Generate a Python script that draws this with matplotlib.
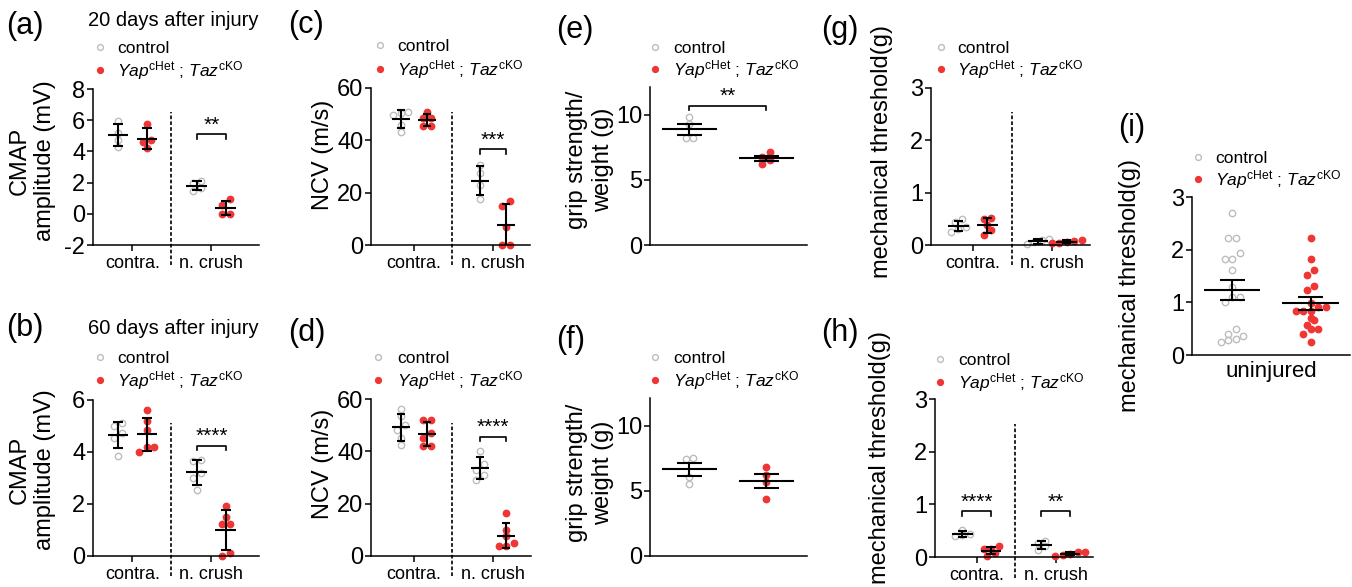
import numpy as np
import matplotlib
matplotlib.use('Agg')
import matplotlib.pyplot as plt
import matplotlib.transforms as mtransforms
from matplotlib.lines import Line2D

plt.rcParams['font.family'] = ['Liberation Sans', 'DejaVu Sans']
plt.rcParams['mathtext.fontset'] = 'custom'
plt.rcParams['mathtext.rm'] = 'Liberation Sans'
plt.rcParams['mathtext.it'] = 'Liberation Sans:italic'
plt.rcParams['axes.unicode_minus'] = False

W, H = 1352, 587
GREY = '#bdbdbd'
RED = '#f03535'

sites = ['contra.', 'n. crush']
leg_labels = ['control', r'$\mathit{Yap}^{\mathrm{cHet}}$ ; $\mathit{Taz}^{\mathrm{cKO}}$']

# values per animal, [contra., n. crush]
# (a) CMAP amplitude (mV), 20 days after injury
a_ctrl = [[5.95, 5.15, 4.7, 4.3], [2.1, 1.95, 1.65, 1.45]]
a_ko = [[5.75, 4.75, 4.6, 4.2], [0.93, 0.57, 0.0, 0.0]]
# (b) CMAP amplitude (mV), 60 days after injury
b_ctrl = [[5.1, 5.0, 4.75, 4.55, 3.85], [3.7, 3.65, 3.2, 3.0, 2.55]]
b_ko = [[5.6, 5.2, 4.85, 4.2, 4.2, 4.0], [1.92, 1.49, 1.22, 1.22, 0.1, 0.0]]
# (c) NCV (m/s), 20 days
c_ctrl = [[51, 50.5, 49.5, 46, 43], [30.5, 27.5, 23, 17.5]]
c_ko = [[51, 48.5, 48.5, 45.5, 45.5], [17, 15, 7, 0, 0]]
# (d) NCV (m/s), 60 days
d_ctrl = [[56, 53.5, 50, 48, 45, 42.5], [40, 35, 33, 31, 29]]
d_ko = [[52, 52, 47, 45, 42, 42], [16.5, 10, 7.5, 5, 4, 4]]
# (e) grip strength / weight, 20 days
e_ctrl = [9.85, 9.3, 8.2, 8.2]
e_ko = [7.18, 6.74, 6.5, 6.23]
# (f) grip strength / weight, 60 days
f_ctrl = [7.55, 7.45, 6.1, 5.55]
f_ko = [6.82, 6.2, 5.72, 4.38]
# (g) mechanical threshold (g), 20 days
g_ctrl = [[0.5, 0.43, 0.35, 0.3, 0.25], [0.12, 0.1, 0.05, 0.02]]
g_ko = [[0.52, 0.5, 0.38, 0.28, 0.2], [0.1, 0.08, 0.05, 0.04, 0.03]]
# (h) mechanical threshold (g), 60 days
h_ctrl = [[0.51, 0.44, 0.42, 0.39], [0.3, 0.27, 0.2, 0.13]]
h_ko = [[0.2, 0.16, 0.15, 0.08, 0.02], [0.1, 0.09, 0.06, 0.04, 0.02]]
# (i) mechanical threshold (g), uninjured
i_ctrl = [2.70, 2.23, 2.23, 1.93, 1.82, 1.82, 1.61, 1.30, 1.11, 1.11, 1.00,
          0.49, 0.40, 0.36, 0.30, 0.28, 0.25]
i_ko = [2.23, 1.82, 1.61, 1.51, 1.31, 1.23, 0.99, 0.91, 0.91, 0.84, 0.84, 0.84,
        0.70, 0.66, 0.57, 0.49, 0.49, 0.40, 0.24]

fig = plt.figure(figsize=(W / 100, H / 100), dpi=100)


def make_ax(l, t, r, b, xlim, ylim, yticks, ylabel, lab_xy):
    ax = fig.add_axes([l / W, 1 - b / H, (r - l) / W, (b - t) / H])
    ax.set_xlim(xlim)
    ax.set_ylim(ylim)
    ax.set_yticks(yticks)
    for s in ['top', 'right']:
        ax.spines[s].set_visible(False)
    for s in ['left', 'bottom']:
        ax.spines[s].set_linewidth(1.1)
    ax.tick_params(axis='y', labelsize=17, length=4, width=1.1, pad=1.5)
    ax.tick_params(axis='x', labelsize=13, length=4, width=1.1, pad=3)
    ax.set_ylabel(ylabel, fontsize=17, linespacing=1.2, rotation=90,
                  ha='center', va='center', rotation_mode='default')
    ax.yaxis.set_label_coords((lab_xy[0] - l) / (r - l), (b - lab_xy[1]) / (b - t))
    sx = (r - l) / (xlim[1] - xlim[0])
    sy = (b - t) / (ylim[1] - ylim[0])
    return ax, sx, sy


def swarm(vals, sx, sy, d=7.5, tol=6.0):
    # spread points of (nearly) equal value side by side, like a dot plot
    v = np.asarray(vals, float)
    order = np.argsort(v)
    offs = np.zeros(len(v))
    rows, row = [], [order[0]]
    for k in order[1:]:
        if (v[k] - v[row[0]]) * sy < tol:
            row.append(k)
        else:
            rows.append(row)
            row = [k]
    rows.append(row)
    for r in rows:
        n = len(r)
        for i, k in enumerate(r):
            offs[k] = (i - (n - 1) / 2) * d / sx
    return offs


def group(ax, x, vals, filled, sx, sy, err):
    v = np.asarray(vals, float)
    xs = x + swarm(v, sx, sy)
    c = RED if filled else GREY
    ax.plot(xs, v, 'o', ms=4.6, mfc=c if filled else 'none', mec=c,
            mew=1.0, ls='none', zorder=2, clip_on=False)
    m = v.mean()
    s = v.std(ddof=1)
    if err == 'sem':
        s = s / np.sqrt(len(v))
    kw = dict(color='k', lw=1.5, zorder=3, solid_capstyle='butt')
    ax.plot([x - 0.36, x + 0.36], [m, m], **kw)
    ax.plot([x, x], [m - s, m + s], **kw)
    ax.plot([x - 0.16, x + 0.16], [m + s, m + s], **kw)
    ax.plot([x - 0.16, x + 0.16], [m - s, m - s], **kw)


def panel4(ax, sx, sy, pos, ctrl, ko, err='sd'):
    for j in range(2):
        group(ax, pos[2 * j], ctrl[j], False, sx, sy, err)
        group(ax, pos[2 * j + 1], ko[j], True, sx, sy, err)
    ax.set_xticks([(pos[0] + pos[1]) / 2, (pos[2] + pos[3]) / 2], sites)


def dashed(ax, x, ytop):
    lo, hi = ax.get_ylim()
    trans = mtransforms.blended_transform_factory(ax.transData, ax.transAxes)
    ax.plot([x, x], [-0.13, (ytop - lo) / (hi - lo)], transform=trans, color='k',
            lw=1.2, ls=(0, (2.2, 1.3)), clip_on=False)


def bracket(ax, x1, x2, y, stars, sy):
    drop = 4.5 / sy
    ax.plot([x1, x1, x2, x2], [y - drop, y, y, y - drop], color='k', lw=1.2, clip_on=False)
    ax.text((x1 + x2) / 2, y + 9 / sy, stars, ha='center', va='center', fontsize=15)


def legend(xm, y1, y2, xt):
    for y, c, filled, lab in [(y1, GREY, False, leg_labels[0]), (y2, RED, True, leg_labels[1])]:
        fig.add_artist(Line2D([xm / W], [1 - y / H], marker='o', ms=4.2,
                              mfc=c if filled else 'none', mec=c, mew=1.0, ls='none',
                              transform=fig.transFigure))
        fig.text(xt / W, 1 - (y + 6) / H, lab, fontsize=12.5, ha='left', va='baseline')


def plabel(cx, cy, s):
    fig.text(cx / W, 1 - cy / H, s, fontsize=22, ha='center', va='center')


pos_ab = [0, 1, 2.72, 3.72]
pos_cd = [0, 1, 3.04, 4.04]
pos_gh = [0, 1, 2.75, 3.75]

# (a)
ax, sx, sy = make_ax(93, 89, 259, 245, (-0.86, 4.86), (-2, 8), [-2, 0, 2, 4, 6, 8],
                     'CMAP\namplitude (mV)', (32, 161))
panel4(ax, sx, sy, pos_ab, a_ctrl, a_ko)
dashed(ax, 1.83, 6.5)
bracket(ax, pos_ab[2], pos_ab[3], 5.1, '**', sy)
plabel(25, 26, '(a)')
fig.text(88 / W, 1 - 20 / H, '20 days after injury', fontsize=14.5, ha='left', va='center')
legend(100, 47, 70, 117)

# (b)
ax, sx, sy = make_ax(93, 400, 259, 556, (-0.86, 4.86), (0, 6), [0, 2, 4, 6],
                     'CMAP\namplitude (mV)', (32, 470))
panel4(ax, sx, sy, pos_ab, b_ctrl, b_ko)
dashed(ax, 1.83, 5.1)
bracket(ax, pos_ab[2], pos_ab[3], 4.24, '****', sy)
plabel(25, 328, '(b)')
fig.text(88 / W, 1 - 329 / H, '60 days after injury', fontsize=14.5, ha='left', va='center')
legend(100, 357, 380, 117)

# (c)
ax, sx, sy = make_ax(371, 88, 530, 245, (-1.15, 4.96), (0, 60), [0, 20, 40, 60],
                     'NCV (m/s)', (323, 155))
panel4(ax, sx, sy, pos_cd, c_ctrl, c_ko)
dashed(ax, 1.95, 51)
bracket(ax, pos_cd[2], pos_cd[3], 36.6, '***', sy)
plabel(306, 25, '(c)')
legend(380, 45, 69, 397)

# (d)
ax, sx, sy = make_ax(371, 399, 531, 556, (-1.15, 5.0), (0, 60), [0, 20, 40, 60],
                     'NCV (m/s)', (323, 464))
panel4(ax, sx, sy, pos_cd, d_ctrl, d_ko)
dashed(ax, 1.95, 51)
bracket(ax, pos_cd[2], pos_cd[3], 45.6, '****', sy)
plabel(307, 333, '(d)')
legend(378, 357, 380, 397)

# (e)
ax, sx, sy = make_ax(650, 87, 807, 245, (-0.51, 1.53), (0, 12.15), [0, 5, 10],
                     'grip strength/\nweight (g)', (590, 160))
group(ax, 0, e_ctrl, False, sx, sy, 'sem')
group(ax, 1, e_ko, True, sx, sy, 'sem')
ax.set_xticks([])
bracket(ax, 0, 1, 10.72, '**', sy)
plabel(575, 30, '(e)')
legend(655, 47, 69, 673)

# (f)
ax, sx, sy = make_ax(650, 398, 807, 556, (-0.51, 1.53), (0, 12.15), [0, 5, 10],
                     'grip strength/\nweight (g)', (590, 473))
group(ax, 0, f_ctrl, False, sx, sy, 'sem')
group(ax, 1, f_ko, True, sx, sy, 'sem')
ax.set_xticks([])
plabel(571, 340, '(f)')
legend(655, 357, 380, 673)

# (g)
ax, sx, sy = make_ax(931, 88, 1090, 245, (-0.95, 4.55), (0, 3), [0, 1, 2, 3],
                     'mechanical threshold(g)', (882, 152))
panel4(ax, sx, sy, pos_gh, g_ctrl, g_ko)
dashed(ax, 1.85, 2.55)
plabel(840, 30, '(g)')
legend(941, 47, 69, 957)

# (h)
ax, sx, sy = make_ax(935, 399, 1093, 557, (-0.95, 4.55), (0, 3), [0, 1, 2, 3],
                     'mechanical threshold(g)', (880, 458))
panel4(ax, sx, sy, pos_gh, h_ctrl, h_ko)
dashed(ax, 1.85, 2.52)
bracket(ax, pos_gh[0], pos_gh[1], 0.87, '****', sy)
bracket(ax, pos_gh[2], pos_gh[3], 0.87, '**', sy)
plabel(840, 333, '(h)')
legend(940, 359, 382, 958)

# (i)
ax, sx, sy = make_ax(1192, 197, 1350, 355, (-0.51, 1.5), (0, 3), [0, 1, 2, 3],
                     'mechanical threshold(g)', (1130, 285))
group(ax, 0, i_ctrl, False, sx, sy, 'sem')
group(ax, 1, i_ko, True, sx, sy, 'sem')
ax.set_xticks([0.5], ['uninjured'])
ax.tick_params(axis='x', length=0, labelsize=16, pad=4)
plabel(1132, 128, '(i)')
legend(1198, 157, 179, 1215)

fig.savefig('out.png', dpi=100)
